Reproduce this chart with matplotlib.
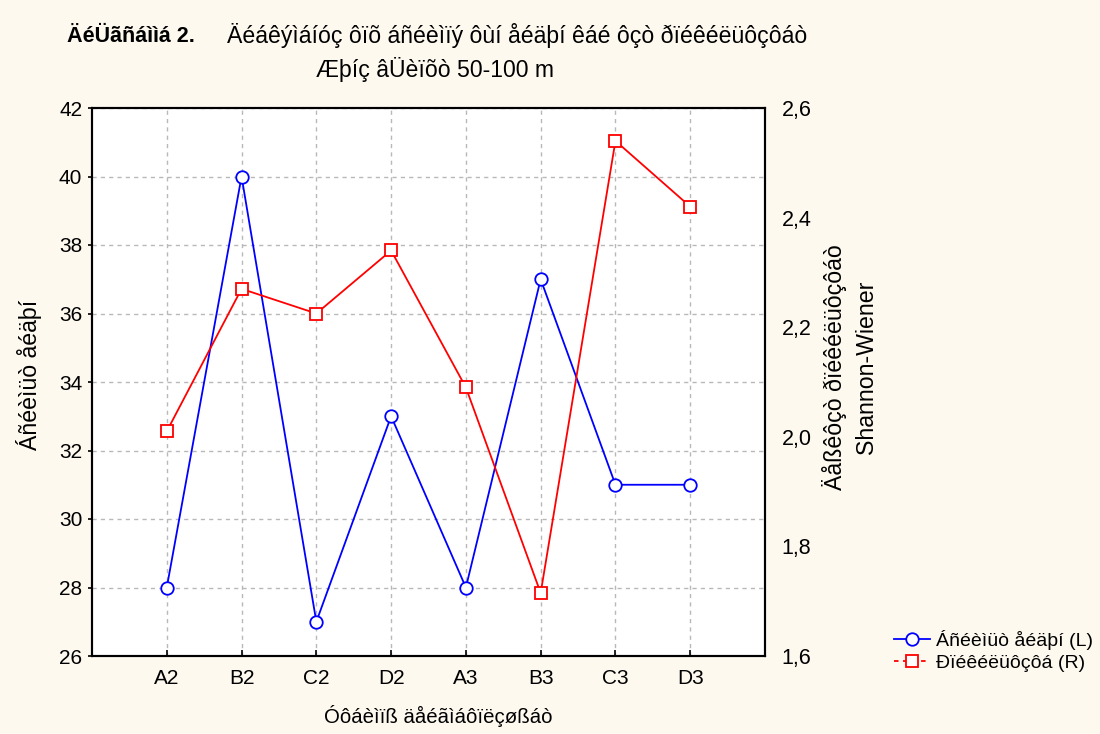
import matplotlib
matplotlib.use("Agg")
import matplotlib.pyplot as plt
from matplotlib.lines import Line2D
from matplotlib.ticker import FuncFormatter

plt.rcParams['font.family'] = ['Liberation Sans', 'DejaVu Sans']

categories = ["A2", "B2", "C2", "D2", "A3", "B3", "C3", "D3"]
species_count = [28, 40, 27, 33, 28, 37, 31, 31]
diversity = [2.01, 2.27, 2.225, 2.34, 2.09, 1.715, 2.54, 2.42]

left_ticks = [26, 28, 30, 32, 34, 36, 38, 40, 42]
right_ticks = [1.6, 1.8, 2.0, 2.2, 2.4, 2.6]

bg = "#fdf9ef"
fig = plt.figure(figsize=(11, 7.34), dpi=100, facecolor=bg)
ax = fig.add_axes([92 / 1100, 1 - 656 / 734, (765 - 92) / 1100, (656 - 108) / 734])
ax.set_facecolor("white")
ax2 = ax.twinx()

x = list(range(1, len(categories) + 1))

ax.plot(x, species_count, color="#0000ff", lw=1.3, marker="o", ms=9,
        mfc="white", mec="#0000ff", mew=1.3, zorder=5)
ax2.plot(x, diversity, color="#ff0000", lw=1.3, marker="s", ms=9,
         mfc="white", mec="#ff0000", mew=1.3, zorder=5)

ax.set_xlim(0, len(categories) + 1)
ax.set_ylim(26, 42)
ax2.set_ylim(1.6, 2.6)
ax.set_xticks(x)
ax.set_xticklabels(categories)
ax.set_yticks(left_ticks)
ax2.set_yticks(right_ticks)
ax2.yaxis.set_major_formatter(FuncFormatter(lambda v, p: f"{v:.1f}".replace(".", ",")))

ax.grid(True, color="#b8b8b8", ls=(0, (3, 3)), lw=1.0)
ax.set_axisbelow(True)

for a in (ax, ax2):
    for s in a.spines.values():
        s.set_linewidth(1.5)
        s.set_color("black")
ax.tick_params(axis="x", direction="in", length=4, width=1.2, labelsize=15, pad=9)
ax.tick_params(axis="y", direction="out", length=3, width=1.2, labelsize=15, pad=4)
ax2.tick_params(axis="y", direction="out", length=0, labelsize=15.5, pad=12)

ax.set_xlabel("Óôáèìïß äåéãìáôïëçøßáò", fontsize=14.7)
ax.xaxis.set_label_coords(0.514, -0.09)
ax.set_ylabel("Áñéèìüò åéäþí", fontsize=16.7)
ax.yaxis.set_label_coords(-0.075, 0.513)
ax2.set_ylabel("Äåßêôçò ðïéêéëüôçôáò\nShannon-Wiener", fontsize=16.7,
               linespacing=1.45)
ax2.yaxis.set_label_coords(1.085, 0.527)

fig.text(67 / 1100, 1 - 36 / 734, "ÄéÜãñáììá 2.", fontsize=15.5, fontweight="bold",
         ha="left", va="center")
fig.text(227 / 1100, 1 - 36 / 734, "Äéáêýìáíóç ôïõ áñéèìïý ôùí åéäþí êáé ôçò ðïéêéëüôçôáò",
         fontsize=16.6, ha="left", va="center")
fig.text(435 / 1100, 1 - 70 / 734, "Æþíç âÜèïõò 50-100 m", fontsize=16.6,
         ha="center", va="center")

h1 = Line2D([], [], color="#0000ff", lw=1.3, marker="o", ms=9, mfc="white",
            mec="#0000ff", mew=1.3)
h2 = Line2D([], [], color="#ff0000", lw=1.3, ls=(0, (2.5, 2.5)), marker="s", ms=9,
            mfc="white", mec="#ff0000", mew=1.3)
fig.legend([h1, h2], ["Áñéèìüò åéäþí (L)", "Ðïéêéëüôçôá (R)"],
           loc="center left", bbox_to_anchor=(876 / 1100, 1 - 651 / 734),
           frameon=False, fontsize=14, handlelength=1.9, handletextpad=0.3,
           labelspacing=0.25)

fig.savefig("out.png", dpi=100, facecolor=bg)
